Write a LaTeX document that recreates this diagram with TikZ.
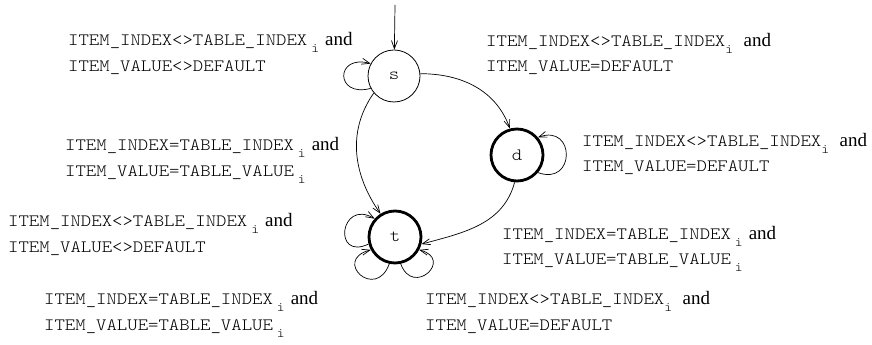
\documentclass[tikz,border=0pt]{standalone}
\usepackage{fontspec}
\setmainfont{Liberation Serif}
\setmonofont[FakeStretch=1.145]{Latin Modern Mono Light}
\usetikzlibrary{arrows.meta}
\newcommand{\subi}{\raisebox{-7pt}{\fontsize{13}{13}\selectfont i}}
\newcommand{\andw}{{\rmfamily\fontsize{19}{20}\selectfont and}}
\newcommand{\spi}{\hspace{4pt}\subi}
\begin{document}
\begin{tikzpicture}[x=1pt,y=1pt,
  stnode/.style={circle,draw,line width=0.8pt,minimum size=52pt,inner sep=0pt,
    font=\ttfamily\fontsize{17.3}{20}\selectfont},
  thickst/.style={stnode,line width=2.8pt},
  lbl/.style={inner sep=0pt,anchor=base west,font=\ttfamily\fontsize{17.3}{20}\selectfont},
  edge/.style={line width=0.7pt,-{Straight Barb[length=8pt,width=6pt]}}]
\useasboundingbox (0,0) rectangle (872,345);
\node[stnode] (s) at (394,269) {s};
\node[thickst] (d) at (517,190) {d};
\node[thickst] (t) at (395,108) {t};
\coordinate (start) at (395,340);
% edges
\draw[edge] (start) -- (s);
\draw[edge] (s.5) to[out=0,in=110] (d.105);
\draw[edge] (s.220) to[out=235,in=125] (t.122);
\draw[edge] (d.265) to[out=255,in=15] (t.-15);
% loops
\draw[edge] (s.208) .. controls +(195:37) and +(165:37) .. (s.152);
\draw[edge] (d.-40) .. controls +(-20:40) and +(20:40) .. (d.40);
\draw[edge] (t.195) .. controls +(205:40) and +(150:40) .. (t.138);
\draw[edge] (t.258) .. controls +(250:40) and +(195:40) .. (t.208);
\draw[edge] (t.282) .. controls +(290:36) and +(345:36) .. (t.332);
% labels
\node[lbl] (l1a) at (68,299) {ITEM\_INDEX<>TABLE\_INDEX\spi\hspace{6pt}\andw};
\node[lbl] (l1b) at (68,273) {ITEM\_VALUE<>DEFAULT};
\node[lbl] (l2a) at (486,298) {ITEM\_INDEX<>TABLE\_INDEX\subi\ \andw};
\node[lbl] (l2b) at (486,273) {ITEM\_VALUE=DEFAULT};
\node[lbl] (l3a) at (65,194) {ITEM\_INDEX=TABLE\_INDEX\spi\hspace{6pt}\andw};
\node[lbl] (l3b) at (65,168) {ITEM\_VALUE=TABLE\_VALUE\spi};
\node[lbl] (l4a) at (582,198) {ITEM\_INDEX<>TABLE\_INDEX\subi\ \andw};
\node[lbl] (l4b) at (582,173) {ITEM\_VALUE=DEFAULT};
\node[lbl] (l5a) at (8,118) {ITEM\_INDEX<>TABLE\_INDEX\spi\hspace{6pt}\andw};
\node[lbl] (l5b) at (8,92) {ITEM\_VALUE<>DEFAULT};
\node[lbl] (l6a) at (502,105) {ITEM\_INDEX=TABLE\_INDEX\spi\hspace{6pt}\andw};
\node[lbl] (l6b) at (502,80) {ITEM\_VALUE=TABLE\_VALUE\spi};
\node[lbl] (l7a) at (44,40) {ITEM\_INDEX=TABLE\_INDEX\spi\hspace{6pt}\andw};
\node[lbl] (l7b) at (44,14) {ITEM\_VALUE=TABLE\_VALUE\spi};
\node[lbl] (l8a) at (425,40) {ITEM\_INDEX<>TABLE\_INDEX\subi\ \andw};
\node[lbl] (l8b) at (425,14) {ITEM\_VALUE=DEFAULT};
\end{tikzpicture}
\end{document}
